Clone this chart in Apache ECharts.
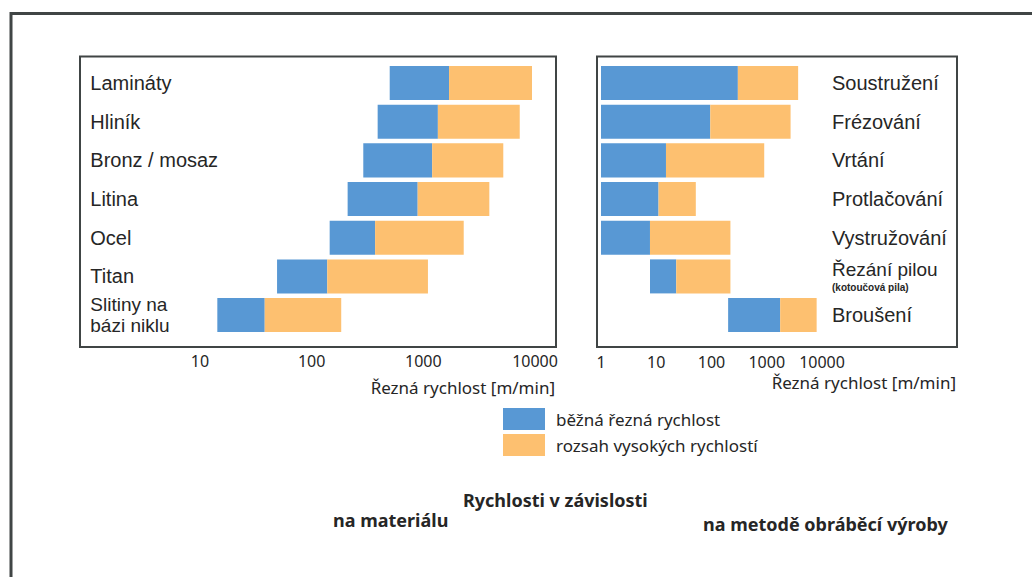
<!DOCTYPE html>
<html>
<head>
<meta charset="utf-8">
<script src="https://cdn.jsdelivr.net/npm/echarts@6/dist/echarts.min.js"></script>
<style>
  html, body { margin: 0; padding: 0; background: #fff; }
  #chart { width: 1032px; height: 577px; }
</style>
</head>
<body>
<div id="chart"></div>
<script>
// Rychlosti podle materiálu (levý panel)
const materials = ['Lamináty', 'Hliník', 'Bronz / mosaz', 'Litina', 'Ocel', 'Titan', 'Slitiny na\nbázi niklu'];
const matStart = [500, 390, 290, 210, 145, 49, 14.3];
const matMid = [1700, 1350, 1200, 890, 370, 138, 38];
const matEnd = [9400, 7300, 5200, 3900, 2300, 1100, 184];

// Rychlosti podle metody (pravý panel)
const methods = ['Soustružení', 'Frézování', 'Vrtání', 'Protlačování', 'Vystružování', 'Řezání pilou', 'Broušení'];
const metStart = [1, 1, 1, 1, 1, 7.7, 200];
const metMid = [300, 95, 15, 11, 7.7, 23, 1750];
const metEnd = [3700, 2700, 900, 52, 220, 220, 8000];

const seriesNames = ['běžná řezná rychlost', 'rozsah vysokých rychlostí'];
const colors = { normal: '#5898d4', high: '#fdc070', text: '#262626', frame: '#404545' };
const font = 'Noto Sans';
const labelFont = 'Liberation Sans';

function ranges(from, to) {
    return from.map((v, i) => [i, v, to[i]]);
}

// obdélník od-do na log ose
function renderRange(params, api) {
    const row = api.value(0);
    const a = api.coord([api.value(1), row]);
    const b = api.coord([api.value(2), row]);
    const h = api.size([1, 1], [1, row])[1] * 0.88;
    return {
        type: 'rect',
        shape: { x: a[0], y: a[1] - h / 2, width: b[0] - a[0], height: h },
        style: api.style()
    };
}

function rangeSeries(name, color, axisIndex, data) {
    return {
        name: name,
        type: 'custom',
        xAxisIndex: axisIndex,
        yAxisIndex: axisIndex,
        renderItem: renderRange,
        itemStyle: { color: color },
        encode: { x: [1, 2], y: 0 },
        data: data
    };
}

const chart = echarts.init(document.getElementById('chart'), null, { renderer: 'svg' });

const xAxisBase = {
    type: 'log',
    logBase: 10,
    min: 1,
    max: 10000,
    axisLine: { show: false },
    axisTick: { show: false },
    splitLine: { show: false },
    name: 'Řezná rychlost [m/min]',
    nameLocation: 'end'
};

const option = {
    animation: false,
    textStyle: { fontFamily: font },
    title: [
        { text: 'Rychlosti v závislosti', left: 463, top: 490 },
        { text: 'na materiálu', left: 333, top: 510 },
        { text: 'na metodě obráběcí výroby', left: 703, top: 514 }
    ].map(t => Object.assign(t, {
        padding: 0,
        textStyle: { fontFamily: font, fontSize: 18, fontWeight: 'bold', color: colors.text, lineHeight: 20 }
    })),
    legend: {
        orient: 'vertical',
        left: 503,
        top: 408,
        padding: 0,
        itemWidth: 42,
        itemHeight: 22,
        itemGap: 4,
        icon: 'rect',
        data: seriesNames,
        textStyle: { fontFamily: font, fontSize: 17, color: colors.text, padding: [0, 0, 0, 6] }
    },
    grid: [
        { left: 88.3, width: 446.7, top: 63.7, height: 270.7 },
        { left: 601, width: 221, top: 63.7, height: 270.7 }
    ],
    xAxis: [
        Object.assign({}, xAxisBase, {
            gridIndex: 0,
            nameGap: 20,
            nameTextStyle: { fontFamily: font, fontSize: 17, color: colors.text, align: 'right', verticalAlign: 'top', padding: [45, 0, 0, 0] },
            axisLabel: {
                margin: 19, fontSize: 16, color: colors.text, fontFamily: font,
                formatter: v => Math.round(v) === 1 ? '' : String(Math.round(v))
            }
        }),
        Object.assign({}, xAxisBase, {
            gridIndex: 1,
            nameGap: 134,
            nameTextStyle: { fontFamily: font, fontSize: 17, color: colors.text, align: 'right', verticalAlign: 'top', padding: [40, 0, 0, 0] },
            axisLabel: {
                margin: 20, fontSize: 16, color: colors.text, fontFamily: font,
                formatter: v => String(Math.round(v))
            }
        })
    ],
    yAxis: [
        {
            type: 'category',
            gridIndex: 0,
            inverse: true,
            data: materials,
            axisLine: { show: false },
            axisTick: { show: false },
            axisLabel: {
                inside: true, margin: 2, fontSize: 20, color: colors.text, fontFamily: labelFont,
                formatter: v => v.indexOf('\n') >= 0 ? v.split('\n').map(s => '{t|' + s + '}').join('\n') : v,
                rich: {
                    t: { fontSize: 19, lineHeight: 21.3, color: colors.text, fontFamily: labelFont }
                }
            }
        },
        {
            type: 'category',
            gridIndex: 1,
            position: 'right',
            inverse: true,
            data: methods,
            axisLine: { show: false },
            axisTick: { show: false },
            axisLabel: {
                margin: 10, fontSize: 20, color: colors.text, fontFamily: labelFont,
                formatter: v => v === 'Řezání pilou' ? '{a|Řezání pilou}\n{b|(kotoučová pila)}' : v,
                rich: {
                    a: { fontSize: 19, lineHeight: 22, color: colors.text, fontFamily: labelFont },
                    b: { fontSize: 10, lineHeight: 13, fontWeight: 'bold', color: colors.text, fontFamily: labelFont }
                }
            }
        }
    ],
    graphic: [
        { type: 'polyline', shape: { points: [[11, 600], [11, 13.5], [1040, 13.5]] }, style: { stroke: colors.frame, lineWidth: 3, fill: null } },
        { type: 'rect', shape: { x: 80, y: 56.5, width: 476, height: 290.5 }, style: { stroke: colors.frame, lineWidth: 2, fill: null } },
        { type: 'rect', shape: { x: 597, y: 56.5, width: 360, height: 290.5 }, style: { stroke: colors.frame, lineWidth: 2, fill: null } }
    ],
    series: [
        rangeSeries(seriesNames[0], colors.normal, 0, ranges(matStart, matMid)),
        rangeSeries(seriesNames[1], colors.high, 0, ranges(matMid, matEnd)),
        rangeSeries(seriesNames[0], colors.normal, 1, ranges(metStart, metMid)),
        rangeSeries(seriesNames[1], colors.high, 1, ranges(metMid, metEnd))
    ]
};

chart.setOption(option);
</script>
</body>
</html>
